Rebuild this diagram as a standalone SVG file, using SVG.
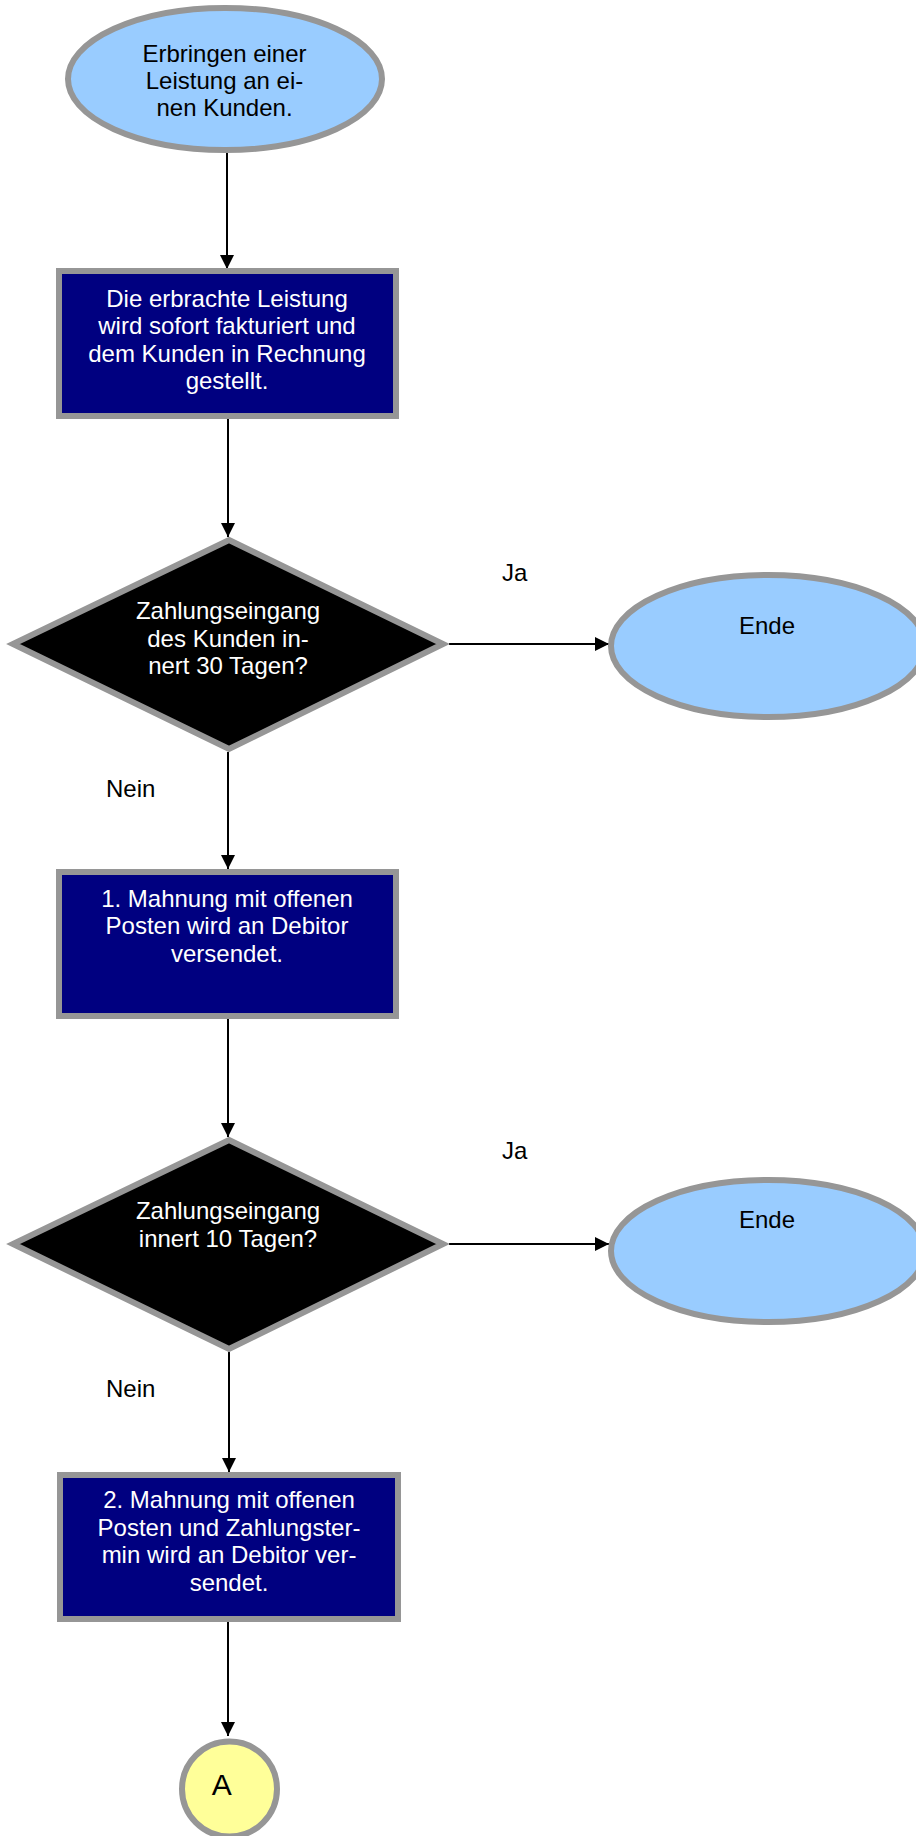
<svg xmlns="http://www.w3.org/2000/svg" width="916" height="1836" viewBox="0 0 916 1836">
<style>
.term{fill:#99CCFF;stroke:#969696;stroke-width:6}
.proc{fill:#000080;stroke:#969696;stroke-width:6}
.dec{fill:#000000;stroke:#969696;stroke-width:6}
.conn{fill:#FFFF99;stroke:#969696;stroke-width:6}
text{font-family:"Liberation Sans",Arial,sans-serif;font-size:24px;text-anchor:middle}
.dk{fill:#000000}
.wt{fill:#FFFFFF}
.lbl{fill:#000000;text-anchor:start}
.edge{stroke:#000000;stroke-width:2;fill:none;marker-end:url(#ah)}
</style>
<defs>
<marker id="ah" viewBox="0 0 14 14" refX="14" refY="7" markerWidth="14" markerHeight="14" markerUnits="userSpaceOnUse" orient="auto">
<path d="M0,0 L14,7 L0,14 Z" fill="#000000"/>
</marker>
</defs>
<rect width="916" height="1836" fill="#FFFFFF"/>
<g id="connectors">
<line class="edge" x1="227" y1="153" x2="227" y2="269"/>
<line class="edge" x1="228" y1="419" x2="228" y2="537"/>
<line class="edge" x1="449" y1="644" x2="609" y2="644"/>
<line class="edge" x1="228" y1="752" x2="228" y2="869"/>
<line class="edge" x1="228" y1="1019" x2="228" y2="1137"/>
<line class="edge" x1="449" y1="1244" x2="609" y2="1244"/>
<line class="edge" x1="229" y1="1352" x2="229" y2="1472"/>
<line class="edge" x1="228" y1="1622" x2="228" y2="1736"/>
</g>
<g id="labels">
<text class="lbl" x="502" y="581">Ja</text>
<text class="lbl" x="106" y="797">Nein</text>
<text class="lbl" x="502" y="1159">Ja</text>
<text class="lbl" x="106" y="1397">Nein</text>
</g>
<g id="start">
<ellipse class="term" cx="225" cy="79" rx="157" ry="71"/>
<text class="dk" x="224.5" y="61.5">Erbringen einer</text>
<text class="dk" x="224.5" y="88.5">Leistung an ei-</text>
<text class="dk" x="224.5" y="115.5">nen Kunden.</text>
</g>
<g id="rechnung">
<rect class="proc" x="59" y="271" width="337" height="145"/>
<text class="wt" x="227" y="306.5">Die erbrachte Leistung</text>
<text class="wt" x="227" y="334">wird sofort fakturiert und</text>
<text class="wt" x="227" y="361.5">dem Kunden in Rechnung</text>
<text class="wt" x="227" y="389">gestellt.</text>
</g>
<g id="frage30">
<polygon class="dec" points="229,540 443,644 229,749 13,644"/>
<text class="wt" x="228" y="619">Zahlungseingang</text>
<text class="wt" x="228" y="646.5">des Kunden in-</text>
<text class="wt" x="228" y="673.5">nert 30 Tagen?</text>
</g>
<g id="ende1">
<ellipse class="term" cx="768" cy="646" rx="157" ry="71"/>
<text class="dk" x="767" y="634">Ende</text>
</g>
<g id="mahnung1">
<rect class="proc" x="59" y="872" width="337" height="144"/>
<text class="wt" x="227" y="906.5">1. Mahnung mit offenen</text>
<text class="wt" x="227" y="934">Posten wird an Debitor</text>
<text class="wt" x="227" y="961.5">versendet.</text>
</g>
<g id="frage10">
<polygon class="dec" points="229,1140 443,1244 229,1349 13,1244"/>
<text class="wt" x="228" y="1219">Zahlungseingang</text>
<text class="wt" x="228" y="1246.5">innert 10 Tagen?</text>
</g>
<g id="ende2">
<ellipse class="term" cx="768" cy="1251" rx="157" ry="71"/>
<text class="dk" x="767" y="1228">Ende</text>
</g>
<g id="mahnung2">
<rect class="proc" x="60" y="1475" width="338" height="144"/>
<text class="wt" x="229" y="1508">2. Mahnung mit offenen</text>
<text class="wt" x="229" y="1535.5">Posten und Zahlungster-</text>
<text class="wt" x="229" y="1563">min wird an Debitor ver-</text>
<text class="wt" x="229" y="1590.5">sendet.</text>
</g>
<g id="connectorA">
<circle class="conn" cx="229.5" cy="1789" r="47.5"/>
<text class="dk" x="221.7" y="1795" style="font-size:30px">A</text>
</g>
</svg>
